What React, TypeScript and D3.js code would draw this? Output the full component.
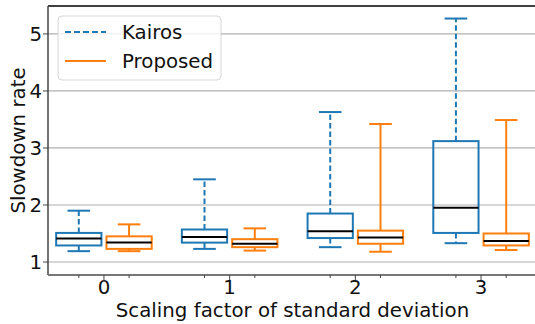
import * as d3 from "d3";

// box statistics, one entry per scaling factor
const groups = ["0", "1", "2", "3"];
const kairosLow = [1.19, 1.23, 1.26, 1.33];
const kairosQ1 = [1.29, 1.34, 1.42, 1.51];
const kairosMedian = [1.41, 1.44, 1.54, 1.95];
const kairosQ3 = [1.51, 1.57, 1.85, 3.12];
const kairosHigh = [1.9, 2.45, 3.63, 5.27];

const proposedLow = [1.19, 1.2, 1.18, 1.21];
const proposedQ1 = [1.23, 1.26, 1.32, 1.29];
const proposedMedian = [1.34, 1.32, 1.43, 1.37];
const proposedQ3 = [1.45, 1.4, 1.55, 1.5];
const proposedHigh = [1.66, 1.59, 3.42, 3.49];

const yTicks = [1, 2, 3, 4, 5];
const xLabel = "Scaling factor of standard deviation";
const yLabel = "Slowdown rate";
const seriesNames = ["Kairos", "Proposed"];

const W = 535;
const H = 324;
const font = "DejaVu Sans, sans-serif";
const fs = 19.8;
const blue = "#1f77b4";
const orange = "#ff7f0e";

export default function App() {
    const x = d3.scaleLinear().domain([-0.445, 3.445]).range([48, 537]);
    const y = d3.scaleLinear().domain([0.772, 5.49]).range([275, 6]);

    const offset = 0.2;
    const boxW = x(0.36) - x(0);
    const capW = x(0.18) - x(0);

    const series = [
        {name: seriesNames[0], color: blue, dash: "5.5,3", shift: -offset,
            low: kairosLow, q1: kairosQ1, med: kairosMedian, q3: kairosQ3, high: kairosHigh},
        {name: seriesNames[1], color: orange, dash: null, shift: offset,
            low: proposedLow, q1: proposedQ1, med: proposedMedian, q3: proposedQ3, high: proposedHigh},
    ];

    const boxes = series.flatMap((s) =>
        groups.map((g, i) => {
            const cx = x(i + s.shift);
            const lo = y(s.low[i]), q1 = y(s.q1[i]), md = y(s.med[i]), q3 = y(s.q3[i]), hi = y(s.high[i]);
            return (
                <g key={s.name + g}>
                    <line x1={cx} x2={cx} y1={q3} y2={hi} stroke={s.color}
                        strokeWidth={2} strokeDasharray={s.dash || undefined} />
                    <line x1={cx} x2={cx} y1={q1} y2={lo} stroke={s.color}
                        strokeWidth={2} strokeDasharray={s.dash || undefined} />
                    <line x1={cx - capW / 2} x2={cx + capW / 2} y1={hi} y2={hi}
                        stroke={s.color} strokeWidth={2} />
                    <line x1={cx - capW / 2} x2={cx + capW / 2} y1={lo} y2={lo}
                        stroke={s.color} strokeWidth={2} />
                    <rect x={cx - boxW / 2} y={q3} width={boxW} height={q1 - q3}
                        fill="none" stroke={s.color} strokeWidth={2} />
                    <line x1={cx - boxW / 2} x2={cx + boxW / 2} y1={md} y2={md}
                        stroke="#000" strokeWidth={2} />
                </g>
            );
        })
    );

    const minorTicks = groups.flatMap((g, i) => [i - offset, i + offset]);

    return (
        <svg width={W} height={H} style={{position: "absolute", left: 0, top: 0}} fontFamily={font}>
            <rect width={W} height={H} fill="#fff" />
            {/* grid */}
            {yTicks.map((t) => (
                <line key={t} x1={48} x2={537} y1={y(t)} y2={y(t)} stroke="#b0b0b0" strokeWidth={1.2} />
            ))}
            {boxes}
            {/* spines */}
            <line x1={48} x2={537} y1={6} y2={6} stroke="#000" strokeWidth={1.5} />
            <line x1={48} x2={48} y1={6} y2={275} stroke="#444" strokeWidth={1.5} />
            <line x1={48} x2={537} y1={275} y2={275} stroke="#777" strokeWidth={2} />
            {/* y axis */}
            {yTicks.map((t) => (
                <g key={t}>
                    <line x1={43} x2={48} y1={y(t)} y2={y(t)} stroke="#444" strokeWidth={1} />
                    <text x={42} y={y(t)} dy="0.36em" textAnchor="end" fontSize={fs} fill="#111">{t}</text>
                </g>
            ))}
            {/* x axis */}
            {minorTicks.map((t, i) => (
                <line key={i} x1={x(t)} x2={x(t)} y1={275} y2={278} stroke="#444" strokeWidth={1} />
            ))}
            {groups.map((g, i) => (
                <g key={g}>
                    <line x1={x(i)} x2={x(i)} y1={275} y2={280} stroke="#444" strokeWidth={1} />
                    <text x={x(i)} y={294} textAnchor="middle" fontSize={fs} fill="#111">{g}</text>
                </g>
            ))}
            <text x={292.5} y={317} textAnchor="middle" fontSize={fs} fill="#111">{xLabel}</text>
            <text transform={`translate(25,${(6 + 275) / 2}) rotate(-90)`} textAnchor="middle"
                fontSize={fs} fill="#111">{yLabel}</text>
            {/* legend */}
            <rect x={58} y={16} width={163} height={64} rx={4} fill="#fff" fillOpacity={0.8}
                stroke="#d6d6d6" strokeWidth={1} />
            {series.map((s, i) => (
                <g key={s.name}>
                    <line x1={65} x2={106} y1={32 + i * 29} y2={32 + i * 29} stroke={s.color}
                        strokeWidth={2} strokeDasharray={s.dash ? "6,3" : undefined} />
                    <text x={122} y={32 + i * 29} dy="0.36em" fontSize={fs} fill="#111">{s.name}</text>
                </g>
            ))}
        </svg>
    );
}
